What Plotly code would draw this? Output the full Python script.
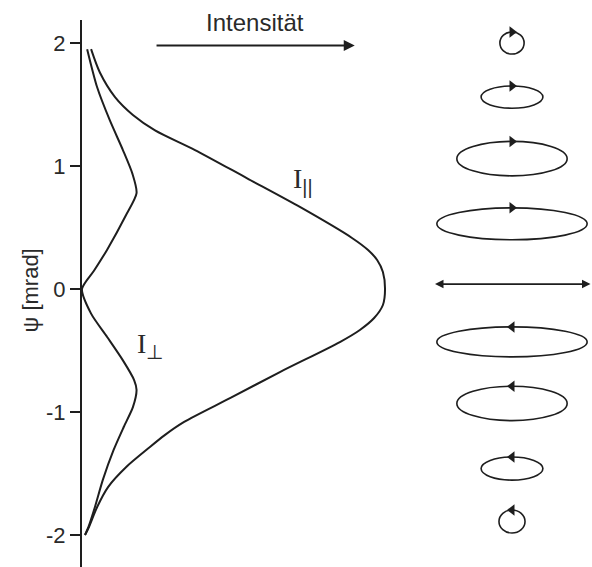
import plotly.graph_objects as go

# Angular distribution of synchrotron radiation: intensity components vs. angle psi
psi_par = [1.95, 1.76, 1.56, 1.415, 1.29, 1.13, 0.90, 0.667, 0.415, 0.317, 0.236, 0.138, 0.0,
           -0.13, -0.236, -0.333, -0.431, -0.675, -0.886, -1.081, -1.19, -1.293, -1.447,
           -1.61, -1.772, -1.935, -2.0]
I_par = [0.030, 0.059, 0.109, 0.168, 0.241, 0.373, 0.545, 0.719, 0.891, 0.944, 0.974, 0.993, 1.0,
         0.993, 0.964, 0.917, 0.851, 0.653, 0.490, 0.337, 0.272, 0.220, 0.146,
         0.086, 0.050, 0.023, 0.010]

psi_perp = [1.95, 1.64, 1.37, 1.13, 0.94, 0.78, 0.60, 0.32, 0.15, 0.00,
            -0.20, -0.39, -0.58, -0.74, -0.82, -0.96, -1.12, -1.31, -1.55, -1.77, -1.93, -2.00]
I_perp = [0.017, 0.050, 0.092, 0.135, 0.166, 0.180, 0.145, 0.083, 0.040, 0.000,
          0.030, 0.083, 0.135, 0.172, 0.180, 0.168, 0.138, 0.104, 0.069, 0.043, 0.022, 0.010]

# Polarisation ellipses: angle, half-width (intensity units), half-height (mrad), rotation sense
pol_psi = [2.00, 1.56, 1.06, 0.53, 0.04, -0.43, -0.93, -1.46, -1.89]
pol_a = [0.040, 0.102, 0.182, 0.248, 0.259, 0.248, 0.182, 0.102, 0.043]
pol_b = [0.090, 0.090, 0.140, 0.130, 0.000, 0.122, 0.140, 0.094, 0.094]
pol_sense = [1, 1, 1, 1, 0, -1, -1, -1, -1]
pol_x = 1.419

tick_vals = [-2, -1, 0, 1, 2]
tick_text = ["-2", "-1", "0", "1", "2"]

ink = "#1e1e1e"
txt = "#2a2a2a"

fig = go.Figure()

fig.add_trace(go.Scatter(x=I_par, y=psi_par, mode="lines",
                         line=dict(color=ink, width=2, shape="spline", smoothing=0.8),
                         hoverinfo="skip"))
fig.add_trace(go.Scatter(x=I_perp, y=psi_perp, mode="lines",
                         line=dict(color=ink, width=2, shape="spline", smoothing=0.7),
                         hoverinfo="skip"))

shapes = []
arrow_x, arrow_y, arrow_sym = [], [], []
for y, a, b, s in zip(pol_psi, pol_a, pol_b, pol_sense):
    if s == 0:
        continue
    shapes.append(dict(type="circle", xref="x", yref="y",
                       x0=pol_x - a, x1=pol_x + a, y0=y - b, y1=y + b,
                       line=dict(color=ink, width=1.6)))
    arrow_x.append(pol_x)
    arrow_y.append(y + b)
    arrow_sym.append("triangle-right" if s > 0 else "triangle-left")

fig.add_trace(go.Scatter(x=arrow_x, y=arrow_y, mode="markers",
                         marker=dict(symbol=arrow_sym, size=10, color=ink, line=dict(width=0)),
                         hoverinfo="skip"))

annotations = []
# linear polarisation in the orbit plane
for y, a, s in zip(pol_psi, pol_a, pol_sense):
    if s == 0:
        annotations.append(dict(x=pol_x + a, y=y, ax=pol_x - a, ay=y,
                                xref="x", yref="y", axref="x", ayref="y",
                                text="", showarrow=True, arrowhead=2, arrowsize=1.0,
                                arrowwidth=1.7, arrowcolor=ink, arrowside="end+start"))

# intensity direction arrow with label
annotations.append(dict(x=0.90, y=1.98, ax=0.241, ay=1.98,
                        xref="x", yref="y", axref="x", ayref="y",
                        text="", showarrow=True, arrowhead=2, arrowsize=1.1,
                        arrowwidth=2, arrowcolor=ink))
annotations.append(dict(x=0.571, y=2.165, xref="x", yref="y", text="Intensität",
                        showarrow=False, font=dict(family="Liberation Sans, Arial", size=24, color=txt)))

annotations.append(dict(x=0.69, y=0.88, xref="x", yref="y",
                        text="I<sub><span style='font-family:Liberation Sans'>||</span></sub>",
                        showarrow=False, xanchor="left",
                        font=dict(family="Liberation Serif, Times New Roman", size=28, color=txt)))
annotations.append(dict(x=0.175, y=-0.46, xref="x", yref="y", text="I<sub>⊥</sub>",
                        showarrow=False, xanchor="left",
                        font=dict(family="Liberation Serif, Times New Roman", size=28, color=txt)))

annotations.append(dict(x=-0.13, y=0.506, xref="paper", yref="paper", text="ψ [mrad]",
                        textangle=-90, showarrow=False,
                        font=dict(family="Liberation Sans, Arial", size=22, color=txt)))

fig.update_layout(
    width=592, height=567,
    margin=dict(l=82, r=0, t=20, b=0),
    paper_bgcolor="white", plot_bgcolor="white",
    showlegend=False,
    shapes=shapes,
    annotations=annotations,
    xaxis=dict(range=[0, 1.683], visible=False, fixedrange=True),
    yaxis=dict(range=[-2.26, 2.187], showgrid=False, zeroline=False,
               showline=True, linewidth=2, linecolor=ink,
               ticks="outside", ticklen=10, tickwidth=1.5, tickcolor=ink,
               tickvals=tick_vals, ticktext=tick_text,
               tickfont=dict(family="Liberation Sans, Arial", size=22, color=txt),
               fixedrange=True),
)

fig.write_html("out.html")
